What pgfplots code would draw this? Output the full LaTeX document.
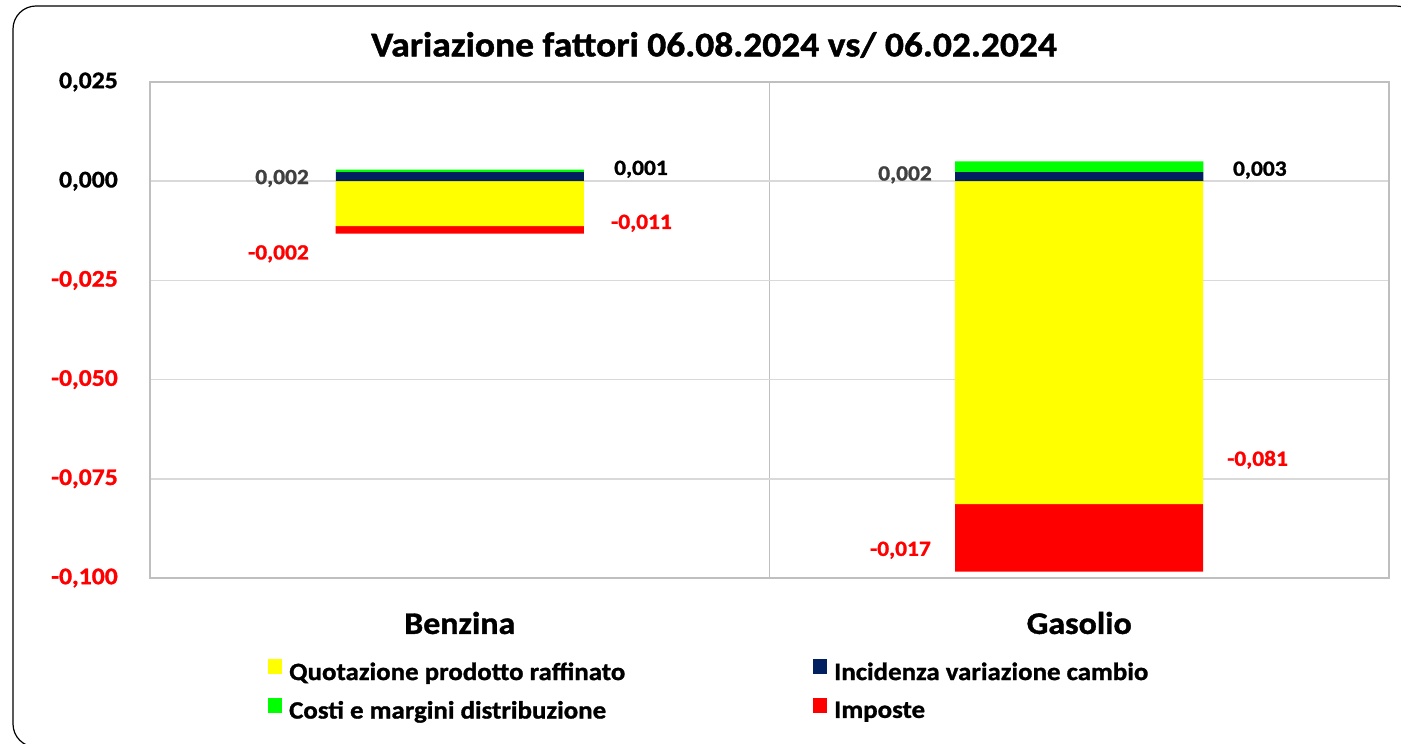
\documentclass[border=0pt]{standalone}
\usepackage{fontspec}
\setmainfont{Carlito}[FakeStretch=1.08, BoldFeatures={FakeBold=1.2}]
\usepackage{pgfplots}
\pgfplotsset{compat=1.18}
\definecolor{cyellow}{RGB}{255,255,0}
\definecolor{cnavy}{RGB}{0,32,96}
\definecolor{cgreen}{RGB}{0,255,0}
\definecolor{cred}{RGB}{255,0,0}
\definecolor{cgrid}{RGB}{217,217,217}
\definecolor{cbord}{RGB}{191,191,191}
\definecolor{cdark}{RGB}{64,64,64}
\newcommand{\fT}{\fontsize{34.7}{40}\selectfont\bfseries}
\newcommand{\fK}{\fontsize{23.8}{28}\selectfont\bfseries}
\newcommand{\fD}{\fontsize{21.7}{26}\selectfont\bfseries}
\newcommand{\fC}{\fontsize{31.4}{36}\selectfont\bfseries}
\newcommand{\fL}{\fontsize{24.9}{29}\selectfont\bfseries}
\begin{document}
\begin{tikzpicture}
\path[use as bounding box] (0pt,0pt) rectangle (1401pt,744pt);
\draw[line width=1.2pt, rounded corners=23pt] (13pt,-3pt) rectangle (1419pt,738pt);
\node[font=\fT] at (714pt,699pt) {Variazione fattori 06.08.2024 vs/ 06.02.2024};
% negative stack + frame
\begin{axis}[
  at={(150pt,166pt)}, anchor=south west, scale only axis,
  width=1239pt, height=496pt,
  xmin=-0.5, xmax=1.5, ymin=-0.1, ymax=0.025,
  ybar stacked, bar width=248pt,
  xtick={0,1}, xticklabels={Benzina,Gasolio},
  xticklabel style={font=\fC, anchor=center, yshift=-45pt},
  ytick={-0.1,-0.075,-0.05,-0.025,0,0.025},
  yticklabels={{\textcolor{cred}{-0,100}},{\textcolor{cred}{-0,075}},{\textcolor{cred}{-0,050}},{\textcolor{cred}{-0,025}},{0,000},{0,025}},
  yticklabel style={font=\fK, anchor=east, inner sep=0pt, xshift=-32pt},
  major tick length=0pt, minor tick length=0pt,
  ymajorgrids, grid style={line width=1.5pt, color=cgrid},
  minor xtick={0.5}, xminorgrids, minor grid style={line width=1.2pt, color=cbord},
  axis line style={line width=1.5pt, color=cbord},
  legend columns=2,
  legend cell align=left,
  legend image code/.code={\fill[#1] (0pt,-2pt) rectangle (14pt,13pt);},
  legend style={draw=none, fill=none, inner sep=0pt, font=\fL,
    at={(axis description cs:0.0952,-0.163)}, anchor=north west,
    nodes={inner sep=0pt},
    row sep=16pt,
    /tikz/every odd column/.append style={column sep=7pt},
    /tikz/every even column/.append style={column sep=188pt}},
]
\addlegendimage{fill=cyellow, draw=none}
\addlegendimage{fill=cnavy, draw=none}
\addlegendimage{fill=cgreen, draw=none}
\addlegendimage{fill=cred, draw=none}
\addplot[fill=cyellow, draw=none, forget plot] coordinates {(0,-0.0113) (1,-0.0814)};
\addplot[fill=cred, draw=none, forget plot] coordinates {(0,-0.0019) (1,-0.0170)};
\legend{Quotazione prodotto raffinato, Incidenza variazione cambio, Costi e margini distribuzione, Imposte}
\node[font=\fD, text=cdark, anchor=east, inner sep=0pt] at (axis cs:-0.2433,0.0007) {0,002};
\node[font=\fD, text=black, anchor=west, inner sep=0pt] at (axis cs:0.249,0.0030) {0,001};
\node[font=\fD, text=cred, anchor=west, inner sep=0pt] at (axis cs:0.244,-0.0106) {-0,011};
\node[font=\fD, text=cred, anchor=east, inner sep=0pt] at (axis cs:-0.2433,-0.0183) {-0,002};
\node[font=\fD, text=cdark, anchor=east, inner sep=0pt] at (axis cs:0.7623,0.0016) {0,002};
\node[font=\fD, text=black, anchor=west, inner sep=0pt] at (axis cs:1.248,0.0028) {0,003};
\node[font=\fD, text=cred, anchor=west, inner sep=0pt] at (axis cs:1.2385,-0.0702) {-0,081};
\node[font=\fD, text=cred, anchor=east, inner sep=0pt] at (axis cs:0.7607,-0.0930) {-0,017};
\end{axis}
% positive stack
\begin{axis}[
  at={(150pt,166pt)}, anchor=south west, scale only axis,
  width=1239pt, height=496pt,
  xmin=-0.5, xmax=1.5, ymin=-0.1, ymax=0.025,
  ybar stacked, bar width=248pt, hide axis,
]
\addplot[fill=cnavy, draw=none] coordinates {(0,0.0023) (1,0.0023)};
\addplot[fill=cgreen, draw=none] coordinates {(0,0.0006) (1,0.0027)};
\end{axis}
\end{tikzpicture}
\end{document}
